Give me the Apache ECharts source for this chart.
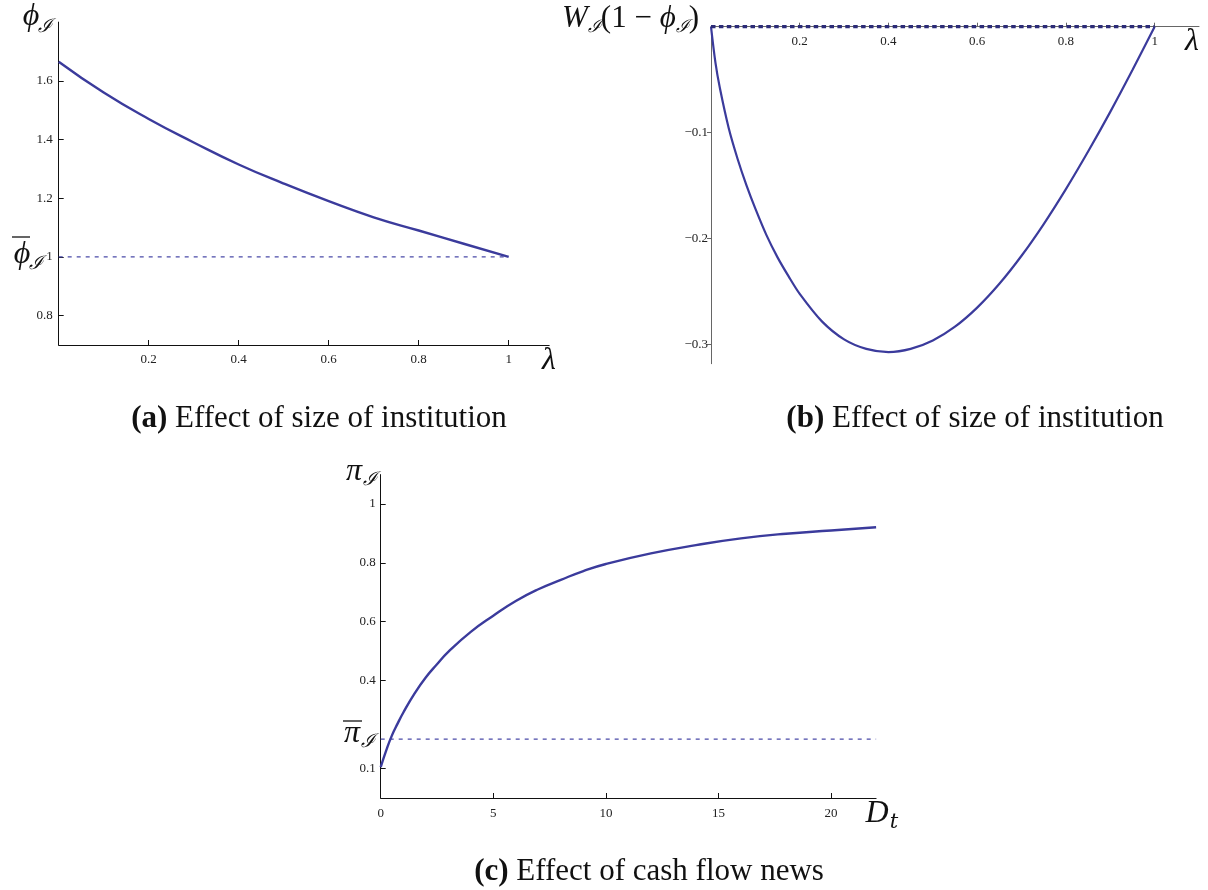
<!DOCTYPE html>
<html>
<head>
<meta charset="utf-8">
<script src="https://cdn.jsdelivr.net/npm/echarts@6/dist/echarts.min.js"></script>
<style>html,body{margin:0;padding:0;background:#fff;}#c{width:1208px;height:890px;}</style>
</head>
<body>
<div id="c"></div>
<script>
// ---- Panel (a): phi_I vs lambda ----
const aLambda = [0, 0.1, 0.2, 0.3, 0.4, 0.5, 0.6, 0.7, 0.8, 0.9, 1.0];
const aPhi    = [1.665, 1.56, 1.47, 1.39, 1.315, 1.25, 1.19, 1.135, 1.09, 1.045, 1.0];
const aPhiBar = 1;
const aXTicks = [0.2, 0.4, 0.6, 0.8, 1];
const aYTicks = [0.8, 1, 1.2, 1.4, 1.6];

// ---- Panel (b): W_I(1 - phi_I) vs lambda ----
const bLambda = [0, 0.01, 0.02, 0.04, 0.06, 0.08, 0.1, 0.125, 0.15, 0.175, 0.2, 0.25, 0.3, 0.35, 0.4, 0.45, 0.5, 0.55, 0.6, 0.65, 0.7, 0.75, 0.8, 0.85, 0.9, 0.95, 1.0];
const bW      = [0, -0.034, -0.058, -0.096, -0.125, -0.150, -0.172, -0.197, -0.218, -0.236, -0.2525, -0.2785, -0.2955, -0.3045, -0.3075, -0.3045, -0.2965, -0.2835, -0.2655, -0.243, -0.2165, -0.1865, -0.1535, -0.118, -0.0805, -0.041, 0];
const bXTicks = [0.2, 0.4, 0.6, 0.8, 1];
const bYTicks = [-0.3, -0.2, -0.1];

// ---- Panel (c): pi_I vs D_t ----
const cD  = [0, 0.25, 0.5, 0.75, 1, 1.5, 2, 2.5, 3, 4, 5, 6, 7, 8, 9, 10, 12, 14, 16, 18, 20, 22];
const cPi = [0.105, 0.163, 0.213, 0.253, 0.29, 0.355, 0.41, 0.455, 0.497, 0.565, 0.62, 0.67, 0.71, 0.742, 0.772, 0.796, 0.832, 0.86, 0.883, 0.899, 0.91, 0.921];
const cPiBar = 0.2;
const cXTicks = [0, 5, 10, 15, 20];
const cYTicks = [0.1, 0.4, 0.6, 0.8, 1];

const captions = ['Effect of size of institution', 'Effect of size of institution', 'Effect of cash flow news'];

const CURVE = '#3b3b9c';
const SERIF = '"Liberation Serif", "DejaVu Serif", serif';
const MATH = '"Liberation Serif", "DejaVu Serif", serif';

function fmt(v) {
  const n = Number(Number(v).toFixed(3));
  return (n < 0 ? '\u2212' : '') + String(Math.abs(n));
}
function zip(xs, ys) { return xs.map((x, i) => [x, ys[i]]); }

function axisCommon(color, ticks, tickInside, tickLen, margin, labelInside) {
  return {
    type: 'value',
    axisLine: { show: true, onZero: false, lineStyle: { color: color, width: 1 } },
    axisTick: { show: true, inside: tickInside, length: tickLen, customValues: ticks, lineStyle: { color: color, width: 1 } },
    axisLabel: { show: true, inside: !!labelInside, customValues: ticks, formatter: fmt, color: '#222', fontFamily: SERIF, fontSize: 13, margin: margin },
    splitLine: { show: false }
  };
}

const chart = echarts.init(document.getElementById('c'), null, { renderer: 'canvas' });

function sym(x, y, main, sub, size, opts) {
  opts = opts || {};
  const els = [];
  els.push({ type: 'text', x: x, y: y, style: { text: main, fontFamily: MATH, fontStyle: 'italic', fontSize: size, fill: '#111', align: 'center', verticalAlign: 'middle' } });
  if (sub) {
    els.push({ type: 'text', x: x + (opts.subDx || size * 0.55), y: y + (opts.subDy || size * 0.28), style: { text: sub, fontFamily: '"DejaVu Serif", serif', fontStyle: 'italic', fontSize: opts.subSize || size * 0.6, fill: '#111', align: 'center', verticalAlign: 'middle' } });
  }
  if (opts.bar) {
    els.push({ type: 'line', shape: { x1: opts.bar[0], y1: opts.bar[2], x2: opts.bar[1], y2: opts.bar[2] }, style: { stroke: '#111', lineWidth: 1.3 } });
  }
  return els;
}

let graphics = [];
graphics = graphics.concat(sym(31, 17, '\u03d5', '\u2110', 32, { subDx: 14, subDy: 10, subSize: 19 }));
graphics = graphics.concat(sym(22, 255, '\u03d5', '\u2110', 32, { subDx: 14, subDy: 9, subSize: 19, bar: [12, 30, 237] }));
graphics = graphics.concat(sym(549, 361, '\u03bb', null, 32));
graphics.push({ type: 'text', x: 562, y: 19, style: { text: '{w|W}{s|\u2110}{n|(1 \u2212 }{w|\u03d5}{s|\u2110}{n|)}', fill: '#111', verticalAlign: 'middle', align: 'left',
  rich: {
    w: { fontFamily: MATH, fontStyle: 'italic', fontSize: 31, fill: '#111' },
    n: { fontFamily: MATH, fontSize: 31, fill: '#111' },
    s: { fontFamily: '"DejaVu Serif", serif', fontStyle: 'italic', fontSize: 18, fill: '#111', padding: [16, 0, 0, 0] }
  } } });
graphics = graphics.concat(sym(1192, 42, '\u03bb', null, 32));
graphics = graphics.concat(sym(354, 472, '\u03c0', '\u2110', 32, { subDx: 16, subDy: 8, subSize: 19 }));
graphics = graphics.concat(sym(352, 734, '\u03c0', '\u2110', 32, { subDx: 16, subDy: 8, subSize: 19, bar: [343, 362, 721] }));
graphics = graphics.concat(sym(877, 814, 'D', 't', 32, { subDx: 17, subDy: 9, subSize: 21 }));

const capPos = [[319, 419], [975, 419], [649, 872]];
const capLetters = ['(a)', '(b)', '(c)'];
capPos.forEach((p, i) => {
  graphics.push({ type: 'text', x: p[0], y: p[1], style: {
    text: '{b|' + capLetters[i] + '} ' + captions[i], align: 'center', verticalAlign: 'middle', fill: '#111',
    fontFamily: SERIF, fontSize: 31,
    rich: { b: { fontFamily: SERIF, fontSize: 31, fontWeight: 'bold', fill: '#111' } }
  } });
});

const option = {
  backgroundColor: '#fff',
  animation: false,
  grid: [
    { left: 58.7, top: 22.1, width: 490.5, height: 322.9, containLabel: false, outerBoundsMode: 'none' },
    { left: 711, top: 26.7, width: 488, height: 337, containLabel: false, outerBoundsMode: 'none' },
    { left: 380.7, top: 474.6, width: 495.4, height: 323.4, containLabel: false, outerBoundsMode: 'none' }
  ],
  xAxis: [
    Object.assign(axisCommon('#111', aXTicks, true, 5, 8), { gridIndex: 0, min: 0, max: 1.09, position: 'bottom' }),
    Object.assign(axisCommon('#666', bXTicks, false, 4, 8, true), { gridIndex: 1, min: 0, max: 1.1, position: 'top' }),
    Object.assign(axisCommon('#111', cXTicks, true, 5, 9), { gridIndex: 2, min: 0, max: 22, position: 'bottom' })
  ],
  yAxis: [
    Object.assign(axisCommon('#111', aYTicks, true, 5, 6), { gridIndex: 0, min: 0.7, max: 1.8, position: 'left' }),
    Object.assign(axisCommon('#666', bYTicks, false, 4, 3), { gridIndex: 1, min: -0.3185, max: 0, position: 'left' }),
    Object.assign(axisCommon('#111', cYTicks, true, 5, 5), { gridIndex: 2, min: 0, max: 1.1, position: 'left' })
  ],
  series: [
    { type: 'line', xAxisIndex: 0, yAxisIndex: 0, data: [[aLambda[0], aPhiBar], [aLambda[aLambda.length - 1], aPhiBar]], showSymbol: false, lineStyle: { color: '#4a4aa8', width: 1.2, type: [4, 5] }, silent: true },
    { type: 'line', xAxisIndex: 0, yAxisIndex: 0, data: zip(aLambda, aPhi), smooth: true, showSymbol: false, lineStyle: { color: CURVE, width: 2.4 }, silent: true },
    { type: 'line', xAxisIndex: 1, yAxisIndex: 1, data: zip(bLambda, bW), smooth: 0.3, showSymbol: false, lineStyle: { color: CURVE, width: 2.2 }, silent: true, z: 2 },
    { type: 'line', xAxisIndex: 1, yAxisIndex: 1, data: [[bLambda[0], 0], [bLambda[bLambda.length - 1], 0]], showSymbol: false, lineStyle: { color: '#2c2c78', width: 3.2, type: [4.5, 3.4] }, silent: true, z: 3 },
    { type: 'line', xAxisIndex: 2, yAxisIndex: 2, data: [[cD[0], cPiBar], [cD[cD.length - 1], cPiBar]], showSymbol: false, lineStyle: { color: '#4a4aa8', width: 1.2, type: [4, 5] }, silent: true },
    { type: 'line', xAxisIndex: 2, yAxisIndex: 2, data: zip(cD, cPi), smooth: true, showSymbol: false, lineStyle: { color: CURVE, width: 2.4 }, silent: true }
  ],
  graphic: graphics
};
chart.setOption(option);
</script>
</body>
</html>
